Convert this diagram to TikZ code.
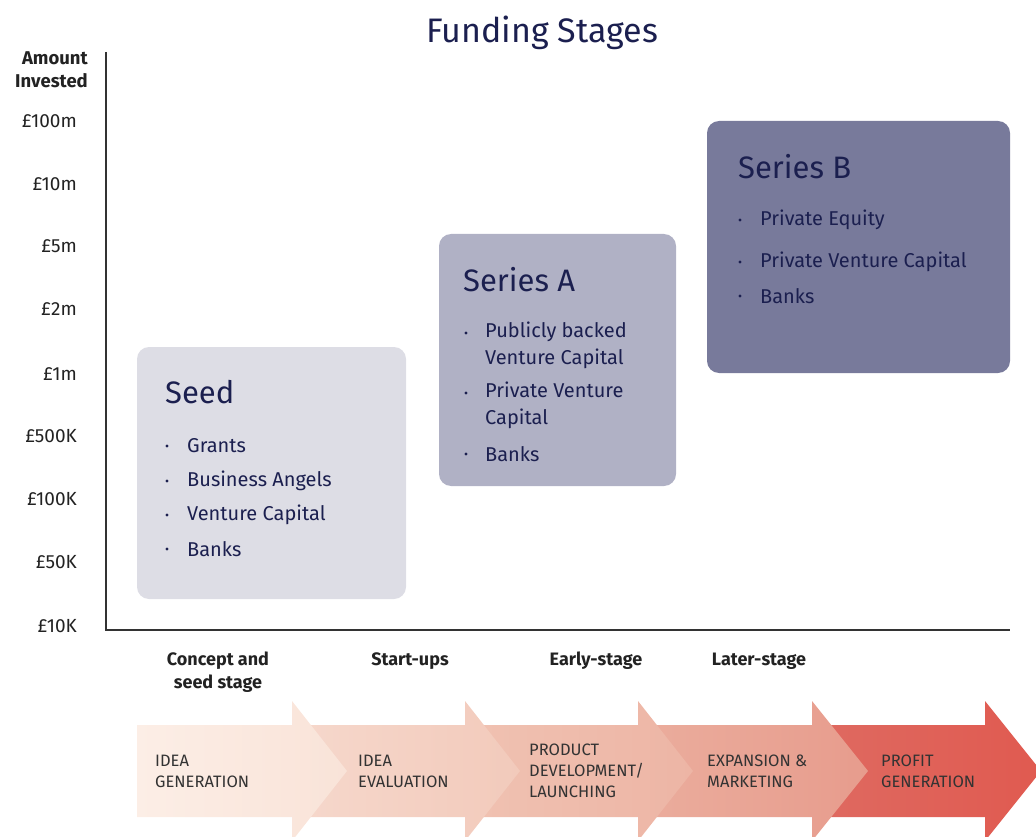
\documentclass[tikz,border=0pt]{standalone}
\usepackage{fontspec}
\setmainfont{Fira Sans}
\definecolor{navy}{HTML}{1B1F4F}
\definecolor{axisgray}{HTML}{333333}
\definecolor{labelgray}{HTML}{222222}
\definecolor{arrtext}{HTML}{333333}
\definecolor{seedfill}{HTML}{DDDDE5}
\definecolor{afill}{HTML}{B0B1C5}
\definecolor{bfill}{HTML}{787A9B}
\definecolor{aOneL}{HTML}{FCEEE6}\definecolor{aOneR}{HTML}{F9E3D8}
\definecolor{aTwoL}{HTML}{F6D8CC}\definecolor{aTwoR}{HTML}{F2CABB}
\definecolor{aThrL}{HTML}{F0C2B2}\definecolor{aThrR}{HTML}{EDB5A5}
\definecolor{aFouL}{HTML}{EBAD9D}\definecolor{aFouR}{HTML}{E79C8D}
\definecolor{aFivL}{HTML}{DF6A61}\definecolor{aFivR}{HTML}{E05A50}
\begin{document}
\begin{tikzpicture}[x=1pt,y=-1pt,
  ylab/.style={anchor=east, text=labelgray, font=\fontsize{19}{22}\selectfont, inner sep=0},
  stagelab/.style={text=labelgray, font=\fontsize{18}{23}\bfseries\selectfont, align=center, inner sep=0},
  fundbox/.style={rounded corners=12pt, draw=none},
  boxtitle/.style={anchor=west, text=navy, font=\fontsize{31}{34}\selectfont, inner sep=0},
  itemtext/.style={anchor=west, text=navy, font=\fontsize{20}{27}\selectfont, align=left, inner sep=0},
  bul/.style={circle, fill=navy, inner sep=0, minimum size=3.4pt},
  arrtxt/.style={anchor=west, text=arrtext, font=\fontsize{16.5}{21}\selectfont, align=left, inner sep=0},
]
\useasboundingbox (0,0) rectangle (1036,837);
\clip (0,0) rectangle (1036,837);

% title
\node[text=navy, font=\fontsize{34}{38}\selectfont, inner sep=0] (title) at (542,33) {Funding Stages};

% axes
\coordinate (ytop) at (106,52);
\coordinate (orig) at (106,630);
\coordinate (xend) at (1010,630);
\draw[axisgray, line width=1.1pt] (ytop) -- (orig) -- (xend);

% y labels
\node[ylab, align=right, font=\fontsize{18.5}{23}\bfseries\selectfont, anchor=east] (amt) at (88,70) {Amount\\Invested};
\node[ylab] (l100m) at (77,121) {£100m};
\node[ylab] (l10m) at (77,184) {£10m};
\node[ylab] (l5m) at (77,246) {£5m};
\node[ylab] (l2m) at (77,309) {£2m};
\node[ylab] (l1m) at (77,374) {£1m};
\node[ylab] (l500k) at (77,436) {£500K};
\node[ylab] (l100k) at (77,499) {£100K};
\node[ylab] (l50k) at (77,562) {£50K};
\node[ylab] (l10k) at (77,626) {£10K};

% boxes
\fill[fundbox, seedfill] (137,347) rectangle (406,599);
\fill[fundbox, afill] (439,234) rectangle (676,486);
\fill[fundbox, bfill] (707,121) rectangle (1010,373);

% Seed
\node[boxtitle] (seedT) at (165,392) {Seed};
\node[bul] (sb1) at (167,446) {};
\node[itemtext] (si1) at (187,446) {Grants};
\node[bul] (sb2) at (167,481) {};
\node[itemtext] (si2) at (187,481) {Business Angels};
\node[bul] (sb3) at (167,515) {};
\node[itemtext] (si3) at (187,515) {Venture Capital};
\node[bul] (sb4) at (167,549) {};
\node[itemtext] (si4) at (187,549) {Banks};

% Series A
\node[boxtitle] (aT) at (463,280) {Series A};
\node[bul] (ab1) at (466,333) {};
\node[itemtext, anchor=north west] (ai1) at (485,322) {Publicly backed\\Venture Capital};
\node[bul] (ab2) at (466,393) {};
\node[itemtext, anchor=north west] (ai2) at (485,382) {Private Venture\\Capital};
\node[bul] (ab3) at (466,454) {};
\node[itemtext] (ai3) at (485,454) {Banks};

% Series B
\node[boxtitle] (bT) at (738,167) {Series B};
\node[bul] (bb1) at (740,220) {};
\node[itemtext] (bi1) at (760,220) {Private Equity};
\node[bul] (bb2) at (740,262) {};
\node[itemtext] (bi2) at (760,262) {Private Venture Capital};
\node[bul] (bb3) at (740,296) {};
\node[itemtext] (bi3) at (760,296) {Banks};

% stage labels
\node[stagelab] (st1) at (218,672) {Concept and\\seed stage};
\node[stagelab] (st2) at (410,661) {Start-ups};
\node[stagelab] (st3) at (596,661) {Early-stage};
\node[stagelab] (st4) at (759,661) {Later-stage};

% process arrows (drawn back to front)
\shade[left color=aFivL, right color=aFivR] (812,725) -- (985,725) -- (985,701) -- (1041,771) -- (985,841) -- (985,817) -- (812,817) -- cycle;
\shade[left color=aFouL, right color=aFouR] (638,725) -- (812,725) -- (812,701) -- (868,771) -- (812,841) -- (812,817) -- (638,817) -- cycle;
\shade[left color=aThrL, right color=aThrR] (465,725) -- (638,725) -- (638,701) -- (693,771) -- (638,841) -- (638,817) -- (465,817) -- cycle;
\shade[left color=aTwoL, right color=aTwoR] (292,725) -- (465,725) -- (465,701) -- (520,771) -- (465,841) -- (465,817) -- (292,817) -- cycle;
\shade[left color=aOneL, right color=aOneR] (137,725) -- (292,725) -- (292,701) -- (347,771) -- (292,841) -- (292,817) -- (137,817) -- cycle;

\node[arrtxt] (p1) at (155,771) {IDEA\\GENERATION};
\node[arrtxt] (p2) at (358,771) {IDEA\\EVALUATION};
\node[arrtxt] (p3) at (529,771) {PRODUCT\\DEVELOPMENT/\\LAUNCHING};
\node[arrtxt] (p4) at (707,771) {EXPANSION \&\\MARKETING};
\node[arrtxt] (p5) at (881,771) {PROFIT\\GENERATION};
\end{tikzpicture}
\end{document}
